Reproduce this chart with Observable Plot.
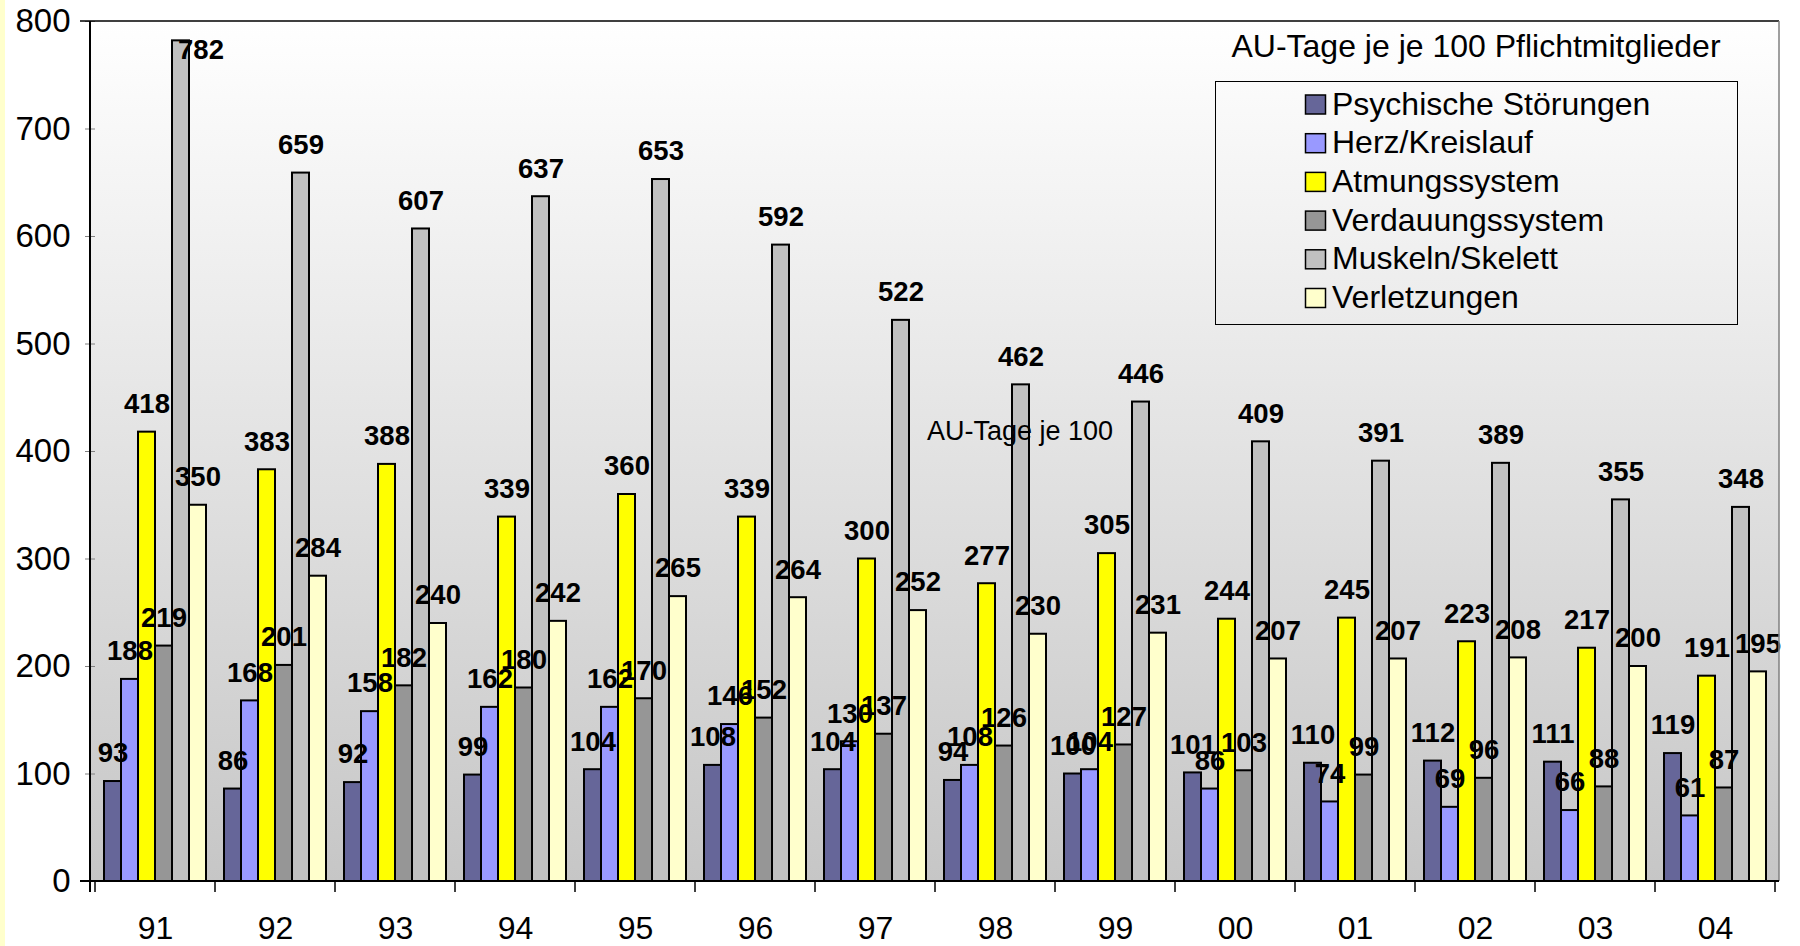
<!DOCTYPE html>
<html>
<head>
<meta charset="utf-8">
<script src="https://cdn.jsdelivr.net/npm/d3@7"></script>
<script src="https://cdn.jsdelivr.net/npm/@observablehq/plot@0.6"></script>
<style>
  html, body { margin: 0; padding: 0; background: #ffffff; }
  #chart { position: relative; width: 1800px; height: 946px; overflow: hidden; }
  #chart svg { display: block; }
</style>
</head>
<body>
<div id="chart"></div>
<script>
// Years (two-digit labels) on the category axis
const years = ["91", "92", "93", "94", "95", "96", "97", "98", "99", "00", "01", "02", "03", "04"];

// Diagnosis groups, in legend order
const seriesNames = [
  "Psychische Störungen",
  "Herz/Kreislauf",
  "Atmungssystem",
  "Verdauungssystem",
  "Muskeln/Skelett",
  "Verletzungen"
];
const seriesColors = ["#666699", "#9999FF", "#FFFF00", "#969696", "#C0C0C0", "#FFFFCC"];

// AU-Tage je 100 Pflichtmitglieder, one value per year
const psychische   = [93, 86, 92, 99, 104, 108, 104, 94, 100, 101, 110, 112, 111, 119];
const herz         = [188, 168, 158, 162, 162, 146, 130, 108, 104, 86, 74, 69, 66, 61];
const atmung       = [418, 383, 388, 339, 360, 339, 300, 277, 305, 244, 245, 223, 217, 191];
const verdauung    = [219, 201, 182, 180, 170, 152, 137, 126, 127, 103, 99, 96, 88, 87];
const muskeln      = [782, 659, 607, 637, 653, 592, 522, 462, 446, 409, 391, 389, 355, 348];
const verletzungen = [350, 284, 240, 242, 265, 264, 252, 230, 231, 207, 207, 208, 200, 195];

const yTicks = [0, 100, 200, 300, 400, 500, 600, 700, 800];
const yMax = 800;

const legendTitle = "AU-Tage je je 100 Pflichtmitglieder";
const noteText = "AU-Tage je 100";

// Long table: series by series, so later series' labels sit on top
const seriesValues = [psychische, herz, atmung, verdauung, muskeln, verletzungen];
const rows = seriesNames.flatMap((s, i) =>
  years.map((yr, j) => ({ year: yr, series: s, value: seriesValues[i][j] }))
);

const FONT = "'Liberation Sans', Arial, Helvetica, sans-serif";
const W = 1800, H = 946;
const mL = 90, mR = 21, mT = 21, mB = 65;

// Labels that would run past the top of the plot area are pulled inside it
const topLimit = 760;
const labelFmt = d => String(d.value);

const plot = Plot.plot({
  width: W,
  height: H,
  marginLeft: mL,
  marginRight: mR,
  marginTop: mT,
  marginBottom: mB,
  style: { fontFamily: FONT, background: "transparent", color: "#000", overflow: "visible" },
  fx: { domain: years, padding: 0 },
  x: { domain: seriesNames, paddingInner: 0, paddingOuter: 0.35, axis: null },
  y: { domain: [0, yMax] },
  color: { domain: seriesNames, range: seriesColors },
  marks: [
    Plot.barY(rows, {
      fx: "year", x: "series", y: "value",
      fill: "series", stroke: "#000", strokeWidth: 2
    }),
    Plot.text(rows.filter(d => d.value <= topLimit), {
      fx: "year", x: "series", y: "value", text: labelFmt,
      dy: -28, fontSize: 27.5, fontWeight: "bold", fill: "#000"
    }),
    Plot.text(rows.filter(d => d.value > topLimit), {
      fx: "year", x: "series", y: () => yMax, text: labelFmt,
      dy: 29, dx: 20, fontSize: 27.5, fontWeight: "bold", fill: "#000"
    }),
    Plot.axisY({
      ticks: yTicks, tickSize: 10, tickPadding: 15, fontSize: 33,
      stroke: "#808080", fill: "#000", label: null, tickFormat: d => String(d)
    }),
    Plot.axisFx({
      anchor: "bottom", tickSize: 0, tickPadding: 35, fontSize: 32,
      fill: "#000", label: null
    })
  ]
});

document.getElementById("chart").appendChild(plot);

// ---- decorations drawn from the plot's own scales ----
const svg = d3.select(plot);
const fx = plot.scale("fx");
const ys = plot.scale("y");
const y0 = ys.apply(0);
const yTop = ys.apply(yMax);
const xL = mL, xR = W - mR;

// Background: gradient plot area and the thin yellow strip at the left edge
const back = svg.insert("g", ":first-child");
const defs = back.append("defs");
const grad = defs.append("linearGradient")
  .attr("id", "plotAreaGrad")
  .attr("x1", 0).attr("y1", 0).attr("x2", 0).attr("y2", 1);
grad.append("stop").attr("offset", "0%").attr("stop-color", "#ffffff");
grad.append("stop").attr("offset", "100%").attr("stop-color", "#c6c6c6");
back.append("rect")
  .attr("x", 0).attr("y", 0).attr("width", 5).attr("height", H)
  .attr("fill", "#ffffcc");
back.append("rect")
  .attr("x", xL).attr("y", yTop).attr("width", xR - xL).attr("height", y0 - yTop)
  .attr("fill", "url(#plotAreaGrad)");

// Foreground: plot-area frame, axis lines, category boundary ticks
const fore = svg.append("g").attr("text-anchor", "start");
fore.append("line")
  .attr("x1", xL - 10).attr("x2", xR).attr("y1", yTop).attr("y2", yTop)
  .attr("stroke", "#000").attr("stroke-width", 1.5);
fore.append("line")
  .attr("x1", xR).attr("x2", xR).attr("y1", yTop).attr("y2", y0)
  .attr("stroke", "#808080").attr("stroke-width", 1.5);
fore.append("line")
  .attr("x1", xL).attr("x2", xL).attr("y1", yTop).attr("y2", y0 + 11)
  .attr("stroke", "#000").attr("stroke-width", 2);
fore.append("line")
  .attr("x1", xL - 10).attr("x2", xR).attr("y1", y0).attr("y2", y0)
  .attr("stroke", "#000").attr("stroke-width", 2);

const bounds = years.map(yr => fx.apply(yr)).concat([fx.apply(years[years.length - 1]) + fx.bandwidth]);
fore.selectAll("line.cat-tick")
  .data(bounds)
  .join("line")
  .attr("class", "cat-tick")
  .attr("x1", d => d).attr("x2", d => d)
  .attr("y1", y0).attr("y2", y0 + 11)
  .attr("stroke", "#000").attr("stroke-width", 1.5);

// Free-standing note inside the plot area
fore.append("text")
  .attr("x", 927).attr("y", 440)
  .attr("text-anchor", "start")
  .attr("font-family", FONT).attr("font-size", 27)
  .attr("fill", "#000")
  .text(noteText);

// Legend with its heading
const legend = fore.append("g").attr("font-family", FONT).attr("font-size", 32);
legend.append("text")
  .attr("x", 1476).attr("y", 57)
  .attr("text-anchor", "middle").attr("fill", "#000")
  .text(legendTitle);
legend.append("rect")
  .attr("x", 1215.5).attr("y", 81.5).attr("width", 522).attr("height", 243)
  .attr("fill", "none").attr("stroke", "#000").attr("stroke-width", 1);
const items = legend.selectAll("g.item")
  .data(seriesNames)
  .join("g")
  .attr("class", "item")
  .attr("transform", (d, i) => `translate(0,${104.5 + i * 38.7})`);
items.append("rect")
  .attr("x", 1305.5).attr("y", -9.5).attr("width", 20).attr("height", 19)
  .attr("fill", (d, i) => seriesColors[i])
  .attr("stroke", "#000").attr("stroke-width", 1.5);
items.append("text")
  .attr("x", 1332).attr("y", 10)
  .attr("text-anchor", "start")
  .attr("fill", "#000")
  .text(d => d);
</script>
</body>
</html>
